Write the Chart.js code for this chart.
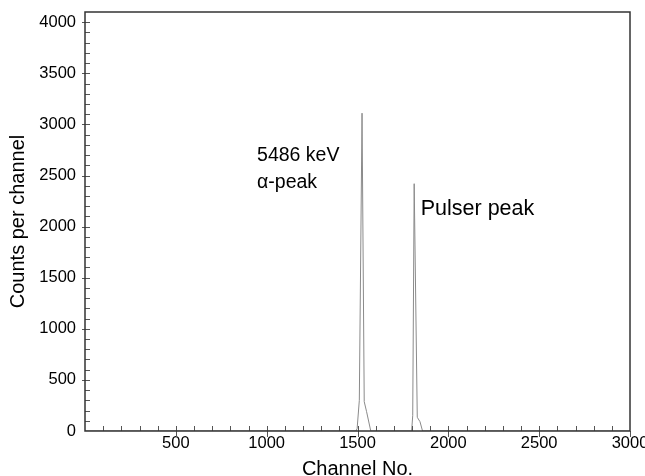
<!DOCTYPE html>
<html>
<head>
<meta charset="utf-8">
<script src="https://cdn.jsdelivr.net/npm/chart.js@4/dist/chart.umd.min.js"></script>
<style>
  html, body { margin: 0; padding: 0; background: #fff; }
  #c { display: block; }
</style>
</head>
<body>
<canvas id="c" width="645" height="476"></canvas>
<script>
// ---- data ----
const channels = [0, 1492, 1498, 1510, 1525, 1537, 1550, 1573, 1798, 1804, 1812, 1829, 1844, 1858, 3000];
const counts   = [0,    0,   25,  300, 3110,  287,  189,    0,    0,  150, 2420,  134,   91,    0,    0];

const xTickLabels = [500, 1000, 1500, 2000, 2500, 3000];
const yTickLabels = [0, 500, 1000, 1500, 2000, 2500, 3000, 3500, 4000];

const annotations = [
  { text: '5486 keV',    x: 947,  y: 2640, size: 19.5 },
  { text: '\u03b1-peak', x: 947,  y: 2377, size: 19.5 },
  { text: 'Pulser peak', x: 1848, y: 2112, size: 21.5 }
];

const FONT = '"Liberation Sans", Arial, sans-serif';

const framePlugin = {
  id: 'frame',
  afterDraw(chart) {
    const ctx = chart.ctx;
    const a = chart.chartArea;
    const xs = chart.scales.x, ys = chart.scales.y;
    ctx.save();
    ctx.strokeStyle = '#555';
    ctx.lineWidth = 1;
    ctx.beginPath();
    for (let v = 100; v < 3000; v += 100) {
      const px = Math.round(xs.getPixelForValue(v)) + 0.5;
      const major = v % 500 === 0;
      ctx.moveTo(px, a.bottom - 5);
      ctx.lineTo(px, a.bottom + (major ? 6 : 0));
    }
    for (let v = 100; v <= 4000; v += 100) {
      const py = Math.round(ys.getPixelForValue(v)) + 0.5;
      const major = v % 500 === 0;
      ctx.moveTo(a.left - (major ? 3 : 0), py);
      ctx.lineTo(a.left + 5, py);
    }
    ctx.moveTo(a.right + 0.5, a.bottom);
    ctx.lineTo(a.right + 0.5, a.bottom + 6);
    ctx.stroke();
    ctx.strokeStyle = '#333';
    ctx.lineWidth = 1.5;
    ctx.strokeRect(a.left, a.top, a.right - a.left, a.bottom - a.top);
    ctx.fillStyle = '#000';
    ctx.textAlign = 'left';
    ctx.textBaseline = 'alphabetic';
    annotations.forEach(an => {
      ctx.font = an.size + 'px ' + FONT;
      ctx.fillText(an.text, xs.getPixelForValue(an.x), ys.getPixelForValue(an.y));
    });
    ctx.restore();
  }
};

new Chart(document.getElementById('c'), {
  type: 'scatter',
  data: {
    datasets: [{
      data: channels.map((c, i) => ({ x: c, y: counts[i] })),
      showLine: true,
      borderColor: '#8a8a8a',
      borderWidth: 1,
      pointRadius: 0,
      tension: 0,
      fill: false
    }]
  },
  options: {
    responsive: false,
    devicePixelRatio: 1,
    animation: false,
    layout: { padding: { top: 12, right: 15, left: 0, bottom: 0 } },
    plugins: { legend: { display: false }, tooltip: { enabled: false } },
    scales: {
      x: {
        type: 'linear',
        min: 0, max: 3000,
        afterBuildTicks: s => { s.ticks = xTickLabels.map(v => ({ value: v })); },
        afterFit: s => { s.height = 45; s.paddingLeft = 0; s.paddingRight = 0; },
        grid: { display: false, drawTicks: false },
        border: { display: false },
        ticks: { color: '#000', font: { size: 16.5, family: FONT }, padding: 3, maxRotation: 0, autoSkip: false,
                 callback: v => String(v) },
        title: { display: true, text: 'Channel No.', color: '#000', font: { size: 20, family: FONT }, padding: { top: 0, bottom: -5 } }
      },
      y: {
        type: 'linear',
        min: 0, max: 4100,
        afterBuildTicks: s => { s.ticks = yTickLabels.map(v => ({ value: v })); },
        afterFit: s => { s.width = 85; s.paddingTop = 0; s.paddingBottom = 0; },
        grid: { display: false, drawTicks: false },
        border: { display: false },
        ticks: { color: '#000', font: { size: 16.5, family: FONT }, padding: 9, autoSkip: false,
                 callback: v => String(v) },
        title: { display: true, text: 'Counts per channel', color: '#000', font: { size: 20, family: FONT }, padding: { top: 6, bottom: 0 } }
      }
    }
  },
  plugins: [framePlugin]
});
</script>
</body>
</html>
